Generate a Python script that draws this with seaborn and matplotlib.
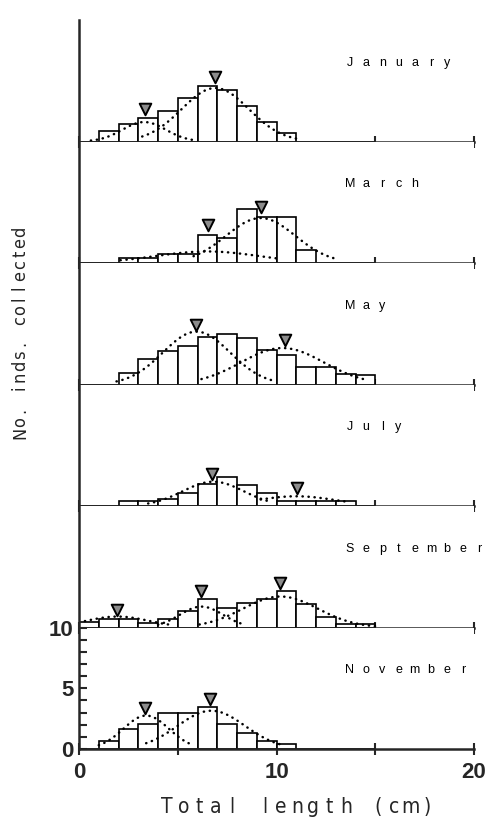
import numpy as np
import seaborn as sns
import matplotlib.pyplot as plt
from matplotlib import font_manager
from matplotlib.ticker import MultipleLocator
import matplotlib.transforms as mtransforms

# Data: 1 cm length classes, height of each bar per month
months = ["January", "March", "May", "July", "September", "November"]
bin_edges = list(range(0, 16))
counts = [
    [0, 0.85, 1.43, 1.90, 2.48, 3.58, 4.57, 4.24, 2.89, 1.57, 0.66, 0, 0, 0, 0],
    [0, 0, 0.41, 0.41, 0.72, 0.72, 2.34, 2.07, 4.41, 3.75, 3.75, 1.05, 0, 0, 0],
    [0, 0, 0.96, 2.12, 2.73, 3.20, 3.88, 4.16, 3.83, 2.81, 2.45, 1.40, 1.40, 0.83, 0.77],
    [0, 0, 0.44, 0.44, 0.55, 1.10, 1.82, 2.40, 1.76, 1.05, 0.44, 0.44, 0.44, 0.44, 0],
    [0.47, 0.74, 0.74, 0.41, 0.69, 1.32, 2.34, 1.63, 2.01, 2.31, 2.98, 1.93, 0.85, 0.30, 0.30],
    [0, 0.66, 1.68, 2.09, 3.00, 3.00, 3.42, 2.04, 1.29, 0.66, 0.39, 0, 0, 0, 0],
]

# fitted normal components (dotted curves): mean, sd, peak height, drawn range
comp_mean = [[3.3, 6.9], [6.5, 9.2], [5.95, 10.3], [6.8, 11.0], [1.95, 6.2, 10.2], [3.4, 6.7]]
comp_sd = [[1.1, 1.7], [2.6, 1.75], [1.7, 2.1], [1.55, 2.0], [1.6, 1.1, 1.9], [1.15, 1.7]]
comp_peak = [[1.6, 4.4], [0.95, 3.7], [4.35, 3.0], [2.0, 0.8], [0.9, 1.72, 2.55], [2.75, 3.15]]
comp_from = [[0.6, 3.2], [2.1, 5.8], [1.9, 6.2], [3.5, 9.2], [0.0, 4.0, 6.1], [1.0, 3.4]]
comp_to = [[5.9, 11.0], [10.0, 13.0], [9.75, 14.6], [9.6, 13.5], [4.6, 8.2, 15.1], [5.8, 10.2]]

# mode markers (triangles)
tri_x = [[3.34, 6.89], [6.51, 9.22], [5.9, 10.43], [6.75, 11.05], [1.94, 6.2, 10.2], [3.34, 6.63]]
tri_y = [[2.67, 5.34], [3.14, 4.57], [4.9, 3.66], [2.64, 1.46], [1.46, 2.98, 3.64], [3.36, 4.1]]

x_ticks = [0, 5, 10, 15, 20]
x_ticklabels = ["0", "", "10", "", "20"]

sns.set_style("ticks")
plt.rcParams['font.family'] = ['Liberation Sans', 'DejaVu Sans']


def narrow_font():
    try:
        font_manager.findfont('Liberation Sans Narrow', fallback_to_default=False)
        return dict(family='Liberation Sans Narrow')
    except ValueError:
        return dict(family='DejaVu Sans', stretch='condensed')


W, H = 490, 826
fig = plt.figure(figsize=(W / 100, H / 100), dpi=100)
gs = fig.add_gridspec(6, 1, left=79 / W, right=474 / W, top=1 - 20 / H,
                      bottom=1 - 749 / H, hspace=0)
axes = [fig.add_subplot(gs[i]) for i in range(6)]

centers = np.array(bin_edges[:-1]) + 0.5
for i, ax in enumerate(axes):
    sns.histplot(x=centers, weights=counts[i], bins=bin_edges, ax=ax,
                 fill=True, color='white', edgecolor='black', linewidth=1.2, alpha=1)
    for m, s, p, lo, hi in zip(comp_mean[i], comp_sd[i], comp_peak[i], comp_from[i], comp_to[i]):
        xs = np.linspace(lo, hi, 120)
        ys = p * np.exp(-(xs - m) ** 2 / (2 * s ** 2))
        sns.lineplot(x=xs, y=ys, ax=ax, color='black', linewidth=1.8,
                     linestyle=(0, (0.1, 2.3)), dash_capstyle='round')
    sns.scatterplot(x=tri_x[i], y=tri_y[i], ax=ax, marker='v', s=70,
                    color='#8c8c8c', edgecolor='black', linewidth=1.4, zorder=5)

    ax.set_xlim(0, 20)
    ax.set_ylim(0, 10)
    ax.set_xlabel('')
    ax.set_ylabel('')
    for side in ['top', 'right']:
        ax.spines[side].set_visible(False)
    for side in ['left', 'bottom']:
        ax.spines[side].set_linewidth(1.8)
    ax.set_xticks(x_ticks)
    ax.set_xticklabels(x_ticklabels)
    ax.tick_params(axis='x', direction='inout', length=8, width=1.5,
                   labelbottom=(i == 5), labelsize=16, pad=5)
    if i < 5:
        ax.set_yticks([])
    else:
        ax.set_yticks([0, 5, 10])
        ax.yaxis.set_minor_locator(MultipleLocator(1))
        ax.tick_params(axis='y', which='both', direction='in', length=6, width=1.5,
                       labelsize=16, pad=4)
    for lab in ax.get_xticklabels() + ax.get_yticklabels():
        lab.set_fontweight('bold')

    # month name, evenly spaced letters
    tr = mtransforms.blended_transform_factory(ax.transData, ax.transAxes)
    for k, ch in enumerate(months[i]):
        ax.text(13.72 + k * 0.82, 0.65, ch, transform=tr, ha='center', va='center',
                fontsize=9, color='black')

nf = narrow_font()
# x label
for k, ch in enumerate("Total length (cm)"):
    fig.text((167 + k * 16.25) / W, 1 - 807 / H, ch, ha='center', va='center',
             fontsize=15, **nf)
# y label
for k, ch in enumerate("No. inds. collected"):
    fig.text(20 / W, 1 - (433 - k * 11.2) / H, ch, ha='center', va='center',
             rotation=90, fontsize=13, **nf)

fig.savefig('out.png', dpi=100)
